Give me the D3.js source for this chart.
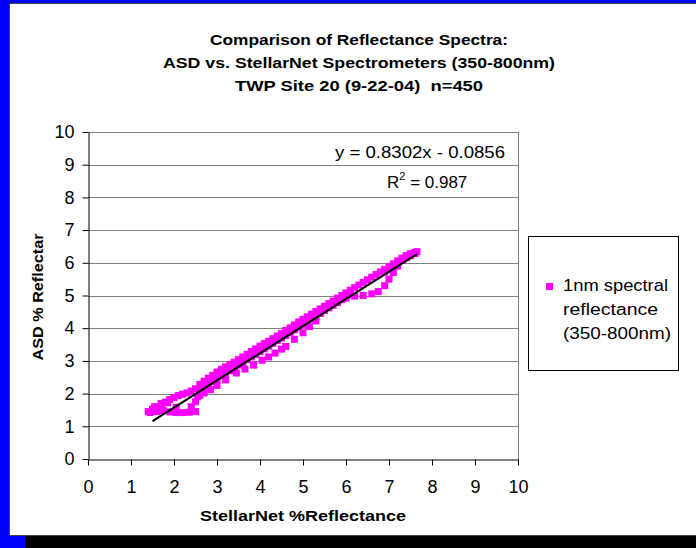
<!DOCTYPE html>
<html>
<head>
<meta charset="utf-8">
<script src="https://cdn.jsdelivr.net/npm/d3@7"></script>
<style>
  html, body { margin: 0; padding: 0; background: #0000ff; }
  svg { display: block; }
  text { font-family: "Liberation Sans", Arial, sans-serif; }
</style>
</head>
<body>
<svg id="chart" width="696" height="548"></svg>
<script>
"use strict";

// upper band of the spectrum (StellarNet x, ASD y)
var upperX = [1.4, 1.5, 1.6, 1.7, 1.8, 1.9, 2.0, 2.1, 2.2, 2.3, 2.4, 2.5, 2.6, 2.7, 2.8, 2.9, 3.0, 3.1, 3.2, 3.3,
  3.4, 3.5, 3.6, 3.7, 3.8, 3.9, 4.0, 4.1, 4.2, 4.3, 4.4, 4.5, 4.6, 4.7, 4.8, 4.9, 5.0, 5.1, 5.2, 5.3,
  5.4, 5.5, 5.6, 5.7, 5.8, 5.9, 6.0, 6.1, 6.2, 6.3, 6.4, 6.5, 6.6, 6.7, 6.8, 6.9, 7.0, 7.1, 7.2, 7.3,
  7.4, 7.5, 7.6, 7.65];
var upperY = [1.45, 1.52, 1.58, 1.65, 1.74, 1.82, 1.88, 1.94, 1.98, 2.02, 2.08, 2.15, 2.28, 2.38, 2.47, 2.56, 2.66, 2.74, 2.82, 2.89,
  2.96, 3.04, 3.12, 3.2, 3.29, 3.37, 3.45, 3.53, 3.6, 3.68, 3.76, 3.84, 3.93, 4.01, 4.1, 4.19, 4.27, 4.35, 4.43, 4.51,
  4.59, 4.67, 4.75, 4.83, 4.92, 5.0, 5.08, 5.16, 5.24, 5.32, 5.4, 5.48, 5.56, 5.64, 5.72, 5.8, 5.88, 5.97, 6.06, 6.14,
  6.22, 6.28, 6.32, 6.34];

// inner row of the band, close to the trendline
var innerX = [2.6, 2.7, 2.8, 2.9, 3.0, 3.1, 3.2, 3.3, 3.4, 3.5, 3.6, 3.7, 3.8, 3.9, 4.0, 4.1, 4.2, 4.3, 4.4, 4.5,
  4.6, 4.7, 4.8, 4.9, 5.0, 5.1, 5.2, 5.3, 5.4, 5.5, 5.6, 5.7, 5.8, 5.9, 6.0, 6.1,
  6.9, 7.0, 7.1, 7.2, 7.3, 7.4, 7.5, 7.6];
var innerY = [2.12, 2.2, 2.28, 2.37, 2.45, 2.54, 2.62, 2.7, 2.78, 2.87, 2.95, 3.04, 3.12, 3.2, 3.28, 3.37, 3.45, 3.54, 3.62, 3.7,
  3.78, 3.87, 3.95, 4.04, 4.12, 4.2, 4.28, 4.37, 4.45, 4.54, 4.62, 4.7, 4.78, 4.87, 4.95, 5.02,
  5.72, 5.8, 5.89, 5.98, 6.07, 6.16, 6.22, 6.28];

// lower branches
var lowerX = [1.45, 1.55, 1.6, 1.7, 1.75, 1.85, 1.9, 2.05, 2.05, 2.2, 2.35, 2.4, 2.5, 2.5, 2.55,
  2.6, 2.7, 2.85, 3.0, 3.2, 3.45, 3.65, 3.85, 4.05, 4.2, 4.35, 4.5, 4.6, 4.8, 5.0, 5.15, 5.3,
  6.0, 6.2, 6.4, 6.6, 6.75, 6.9, 7.0, 7.1, 7.2];
var lowerY = [1.42, 1.6, 1.45, 1.7, 1.48, 1.72, 1.44, 1.42, 1.58, 1.42, 1.43, 1.6, 1.45, 1.75, 1.9,
  1.95, 2.02, 2.12, 2.25, 2.42, 2.63, 2.75, 2.87, 3.02, 3.12, 3.24, 3.36, 3.44, 3.66, 3.86, 4.05, 4.22,
  4.92, 4.98, 5.0, 5.05, 5.12, 5.3, 5.5, 5.7, 5.9];

var trendSlope = 0.8302;
var trendIntercept = -0.0856;
var axisTicks = [0, 1, 2, 3, 4, 5, 6, 7, 8, 9, 10];
var titleLines = ["Comparison of Reflectance Spectra:", "ASD vs. StellarNet Spectrometers (350-800nm)", "TWP Site 20 (9-22-04)  n=450"];
var legendLines = ["1nm spectral", "reflectance", "(350-800nm)"];

var points = [];
upperX.forEach(function (v, i) { points.push({ x: v, y: upperY[i] }); });
innerX.forEach(function (v, i) { points.push({ x: v, y: innerY[i] }); });
lowerX.forEach(function (v, i) { points.push({ x: v, y: lowerY[i] }); });

var svg = d3.select("#chart");

// frame
svg.append("rect").attr("x", 0).attr("y", 0).attr("width", 696).attr("height", 548).attr("fill", "#0000ff");
svg.append("rect").attr("x", 25).attr("y", 536).attr("width", 671).attr("height", 12).attr("fill", "#000");
svg.append("rect").attr("x", 9.5).attr("y", 3.5).attr("width", 690).attr("height", 532)
  .attr("fill", "#fff").attr("stroke", "#444").attr("stroke-width", 1);

var x = d3.scaleLinear().domain([0, 10]).range([88, 518]);
var y = d3.scaleLinear().domain([0, 10]).range([459, 132]);

// gridlines
svg.append("g").selectAll("line")
  .data(axisTicks.slice(1))
  .enter()
  .append("line")
  .attr("x1", x(0)).attr("x2", x(10))
  .attr("y1", function (d) { return Math.round(y(d)) + 0.5; })
  .attr("y2", function (d) { return Math.round(y(d)) + 0.5; })
  .attr("stroke", "#808080")
  .attr("stroke-width", 1);
svg.append("line")
  .attr("x1", x(10) + 0.5).attr("x2", x(10) + 0.5)
  .attr("y1", y(10)).attr("y2", y(0))
  .attr("stroke", "#808080");

// axes
var yAxis = svg.append("g")
  .attr("transform", "translate(" + (x(0) + 0.5) + ",0)")
  .call(d3.axisLeft(y).tickValues(axisTicks).tickSizeInner(6).tickSizeOuter(0).tickPadding(8));
var xAxis = svg.append("g")
  .attr("transform", "translate(0," + (Math.round(y(0)) + 0.5) + ")")
  .call(d3.axisBottom(x).tickValues(axisTicks).tickSizeInner(6).tickSizeOuter(0).tickPadding(15));
[xAxis, yAxis].forEach(function (g) {
  g.select(".domain").attr("stroke", "#000");
  g.selectAll(".tick line").attr("stroke", "#000");
  g.selectAll(".tick text")
    .attr("font-family", "'Liberation Sans', Arial, sans-serif")
    .attr("font-size", "18px")
    .attr("fill", "#000");
});

// points
svg.append("g").selectAll("rect")
  .data(points)
  .enter()
  .append("rect")
  .attr("x", function (d) { return x(d.x) - 3.5; })
  .attr("y", function (d) { return y(d.y) - 3.5; })
  .attr("width", 7)
  .attr("height", 7)
  .attr("fill", "#ff00ff");

// linear trendline
var xExtent = d3.extent(points, function (d) { return d.x; });
svg.append("line")
  .attr("x1", x(xExtent[0] + 0.1)).attr("y1", y(trendSlope * (xExtent[0] + 0.1) + trendIntercept))
  .attr("x2", x(xExtent[1])).attr("y2", y(trendSlope * xExtent[1] + trendIntercept))
  .attr("stroke", "#000")
  .attr("stroke-width", 2);

// equation
svg.append("text")
  .attr("x", 335).attr("y", 158)
  .attr("font-size", "17px")
  .attr("textLength", 170).attr("lengthAdjust", "spacingAndGlyphs")
  .text("y = " + trendSlope + "x - " + Math.abs(trendIntercept));
var r2 = svg.append("text")
  .attr("x", 387).attr("y", 188)
  .attr("font-size", "17px");
r2.append("tspan").text("R");
r2.append("tspan").attr("font-size", "11px").attr("dy", -8).text("2");
r2.append("tspan").attr("dy", 8).text(" = 0.987");

// titles
svg.append("g").selectAll("text")
  .data(titleLines)
  .enter()
  .append("text")
  .attr("x", 359)
  .attr("y", function (d, i) { return 45 + i * 23; })
  .attr("text-anchor", "middle")
  .attr("font-size", "15px")
  .attr("font-weight", "bold")
  .style("white-space", "pre")
  .attr("textLength", function (d, i) { return [298, 392, 248][i]; })
  .attr("lengthAdjust", "spacingAndGlyphs")
  .text(function (d) { return d; });

svg.append("text")
  .attr("x", 303).attr("y", 521)
  .attr("text-anchor", "middle")
  .attr("font-size", "15px")
  .attr("font-weight", "bold")
  .attr("textLength", 206).attr("lengthAdjust", "spacingAndGlyphs")
  .text("StellarNet %Reflectance");

svg.append("text")
  .attr("transform", "translate(43,297) rotate(-90)")
  .attr("text-anchor", "middle")
  .attr("font-size", "15px")
  .attr("font-weight", "bold")
  .attr("textLength", 127).attr("lengthAdjust", "spacingAndGlyphs")
  .text("ASD % Reflectar");

// legend
svg.append("rect")
  .attr("x", 528.5).attr("y", 236.5).attr("width", 150).attr("height", 134)
  .attr("fill", "#fff").attr("stroke", "#000");
svg.append("rect")
  .attr("x", 546).attr("y", 283).attr("width", 7).attr("height", 7)
  .attr("fill", "#ff00ff");
svg.append("g").selectAll("text")
  .data(legendLines)
  .enter()
  .append("text")
  .attr("x", 563)
  .attr("y", function (d, i) { return 291 + i * 24; })
  .attr("font-size", "16px")
  .attr("textLength", function (d, i) { return [105, 95, 108][i]; })
  .attr("lengthAdjust", "spacingAndGlyphs")
  .text(function (d) { return d; });
</script>
</body>
</html>
